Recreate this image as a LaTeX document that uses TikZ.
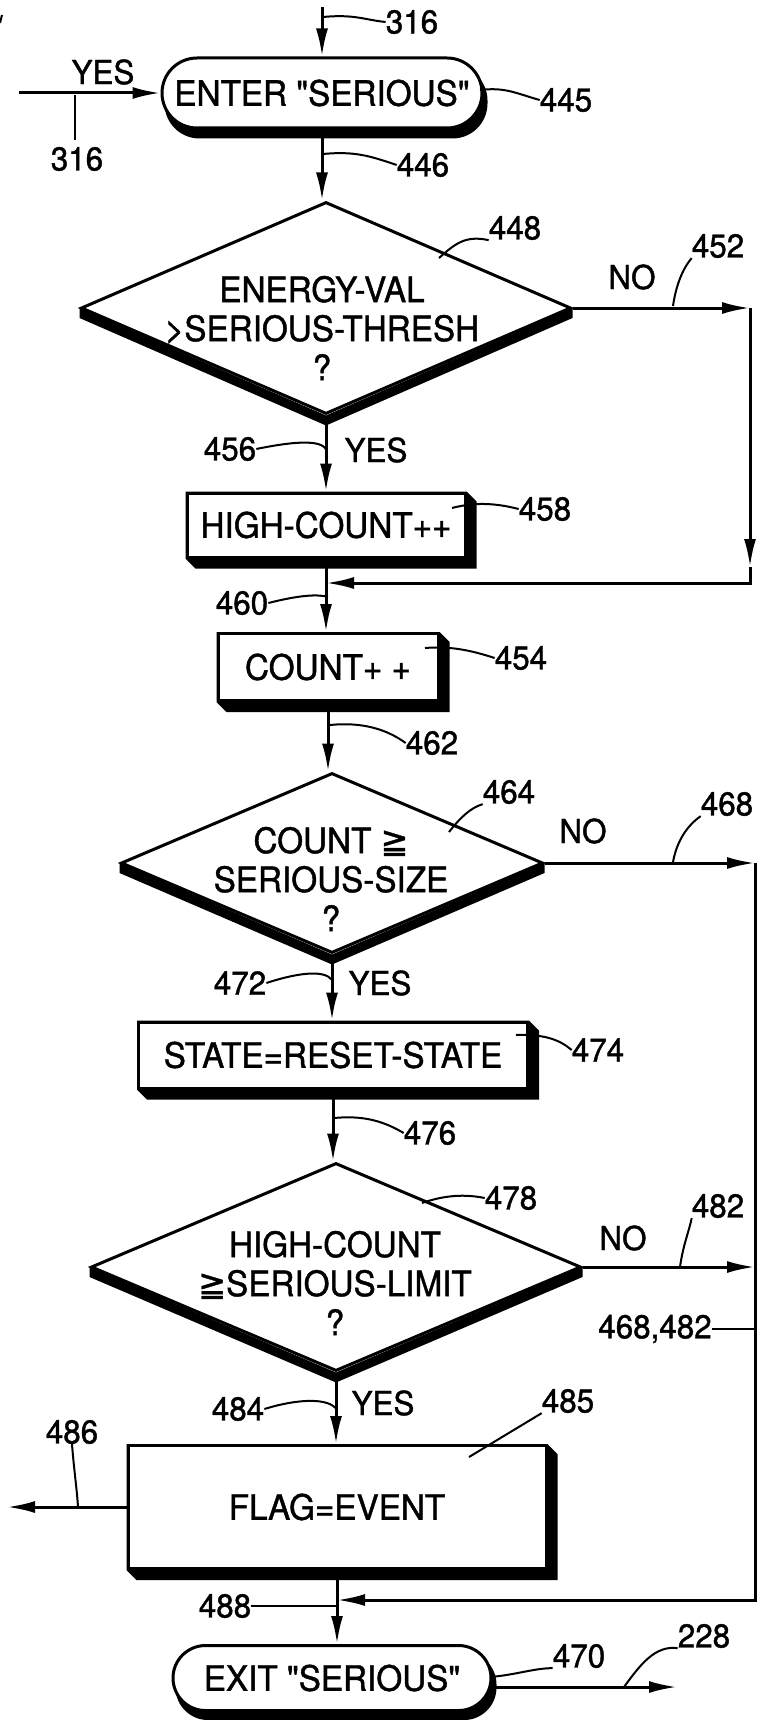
\documentclass[tikz,border=0pt]{standalone}
\usepackage{fontspec}
\setmainfont[Ligatures=TeXOff, FakeStretch=0.95, FakeBold=1.2]{TeX Gyre Heros}
\newfontfamily\symf[FakeStretch=0.95, FakeBold=1.2]{DejaVu Sans}
\usetikzlibrary{arrows.meta,calc,shapes.geometric}
\pgfdeclarelayer{bg}
\pgfsetlayers{bg,main}
\newcommand\boxfont{\fontsize{35}{39}\selectfont}
\newcommand\labfont{\fontsize{33}{36}\selectfont}
\newcommand\myge{{\symf ≧}}
\newcommand\boxshadow[1]{\fill (#1.north west) -- (#1.north east) -- ($(#1.north east)+(10,10)$) -- ($(#1.south east)+(10,10)$) -- ($(#1.south west)+(10,10)$) -- (#1.south west) -- cycle;}
\newcommand\diashadow[1]{\fill (#1.west) -- (#1.south) -- (#1.east) -- ($(#1.east)+(0,10)$) -- ($(#1.south)+(0,10)$) -- ($(#1.west)+(0,10)$) -- cycle;}
\begin{document}
\begin{tikzpicture}[x=1pt,y=-1pt,
  boxn/.style={draw, fill=white, line width=3pt, rectangle, inner sep=0pt, font=\boxfont},
  stad/.style={draw, fill=white, line width=3pt, rectangle, inner sep=0pt, font=\boxfont},
  dia/.style={draw, fill=white, line width=3pt, diamond, inner sep=0pt},
  dtext/.style={align=center, font=\boxfont, inner sep=0pt},
  lab/.style={font=\labfont, inner sep=0pt},
  arr/.style={line width=3pt, -{Latex[length=28pt,width=12pt]}},
  lead/.style={line width=2pt}
]
\useasboundingbox (0,0) rectangle (760,1720);

% nodes
\node[stad, rounded corners=35pt, minimum width=320, minimum height=70] (enter) at (322,93) {ENTER "SERIOUS"};
\node[dia, minimum width=490, minimum height=212] (d1) at (326,308) {};
\node[dtext] (d1t) at (322,328) {ENERGY-VAL\\>SERIOUS-THRESH\\?};
\node[boxn, minimum width=278, minimum height=64] (hc) at (326,525) {HIGH-COUNT++};
\node[boxn, minimum width=220, minimum height=67] (count) at (328,667) {COUNT+ +};
\node[dia, minimum width=422, minimum height=180] (d2) at (332,863) {};
\node[dtext] (d2t) at (331,879) {COUNT \myge\\SERIOUS-SIZE\\?};
\node[boxn, minimum width=389, minimum height=66] (state) at (333,1055) {STATE=RESET-STATE};
\node[dia, minimum width=490, minimum height=208] (d3) at (336,1267) {};
\node[dtext] (d3t) at (335,1283) {HIGH-COUNT\\\myge SERIOUS-LIMIT\\?};
\node[boxn, minimum width=418, minimum height=123] (flag) at (337,1507) {FLAG=EVENT};
\node[stad, rounded corners=32.5pt, minimum width=318, minimum height=65] (exit) at (332,1678) {EXIT "SERIOUS"};

% shadows
\begin{pgfonlayer}{bg}
  \fill[rounded corners=35pt] ($(enter.north west)+(4,9)$) rectangle ($(enter.south east)+(4,9)$);
  \fill[rounded corners=32.5pt] ($(exit.north west)+(4,8)$) rectangle ($(exit.south east)+(4,8)$);
  \boxshadow{hc}
  \boxshadow{count}
  \boxshadow{state}
  \boxshadow{flag}
  \diashadow{d1}
  \diashadow{d2}
  \diashadow{d3}
\end{pgfonlayer}

% coordinates
\coordinate (top) at (322,7);
\coordinate (in) at (19,93);
\coordinate (r1b) at (750,583);
\coordinate (r1a) at (d1.east -| r1b);
\coordinate (r1m) at (750,567);
\coordinate (r2b) at (755,1600);
\coordinate (r2a) at (d2.east -| r2b);
\coordinate (o486) at (7,1507);
\coordinate (o228) at (677,1687);
\coordinate (t316a) at (75,95);
\coordinate (t316b) at (75,140);

% connectors
\draw[arr] (top) -- (enter.north);
\draw[arr] (in) -- (enter.west);
\draw[arr] (enter.south) -- (enter.south |- d1.north);
\draw[arr] (d1.south) -- (d1.south |- hc.north);
\draw[arr] (d1.east) -- (r1a);
\draw[arr] (r1a) -- (r1m);
\draw[arr] (r1m) -- (r1b) -- (hc.south |- r1b);
\draw[arr] (hc.south) -- (hc.south |- count.north);
\draw[arr] (count.south) -- (count.south |- d2.north);
\draw[arr] (d2.east) -- (r2a);
\draw[arr] (r2a) -- (r2b) -- (flag.south |- r2b);
\draw[arr] (d2.south) -- (d2.south |- state.north);
\draw[arr] (state.south) -- (state.south |- d3.north);
\draw[arr] (d3.east) -- (d3.east -| r2b);
\draw[arr] (d3.south) -- (d3.south |- flag.north);
\draw[arr] (flag.west) -- (o486);
\draw[arr] (flag.south) -- (flag.south |- exit.north);
\draw[arr] (exit.east |- o228) -- (o228);

% small mark top left
\draw[line width=2pt] (2,15) -- (0,23);

% labels
\node[lab] (l316a) at (412,22) {316};
\node[lab] (lyes0) at (103,72) {YES};
\node[lab] (l316b) at (77,159) {316};
\node[lab] (l445) at (566,100) {445};
\node[lab] (l446) at (423,165) {446};
\node[lab] (l448) at (515,228) {448};
\node[lab] (lno1) at (632,277) {NO};
\node[lab] (l452) at (718,246) {452};
\node[lab] (l456) at (230,449) {456};
\node[lab] (lyes1) at (376,450) {YES};
\node[lab] (l458) at (545,509) {458};
\node[lab] (l460) at (242,603) {460};
\node[lab] (l454) at (521,658) {454};
\node[lab] (l462) at (432,743) {462};
\node[lab] (l464) at (509,792) {464};
\node[lab] (lno2) at (583,831) {NO};
\node[lab] (l468) at (727,804) {468};
\node[lab] (l472) at (240,983) {472};
\node[lab] (lyes2) at (380,983) {YES};
\node[lab] (l474) at (598,1050) {474};
\node[lab] (l476) at (430,1133) {476};
\node[lab] (l478) at (511,1198) {478};
\node[lab] (lno3) at (623,1238) {NO};
\node[lab] (l482) at (718,1206) {482};
\node[lab] (l468482) at (655,1329) {468,482};
\node[lab] (l484) at (238,1409) {484};
\node[lab] (lyes3) at (383,1403) {YES};
\node[lab] (l485) at (568,1401) {485};
\node[lab] (l486) at (72,1432) {486};
\node[lab] (l488) at (225,1606) {488};
\node[lab] (l470) at (579,1656) {470};
\node[lab] (l228) at (704,1636) {228};

% leaders
\draw[lead] (323,17) .. controls (355,14) and (365,20) .. (l316a.west);
\draw[lead] (t316a) -- (t316b);
\draw[lead] (480,90) .. controls (505,87) and (515,93) .. (l445.west);
\draw[lead] (323,154) .. controls (355,151) and (370,156) .. (l446.west);
\draw[lead] (439,258) .. controls (455,244) and (465,235) .. (l448.south west);
\draw[lead] (673,306) .. controls (676,285) and (683,268) .. (l452.south west);
\draw[lead] (l456.east) .. controls (300,440) and (325,440) .. (327,452);
\draw[lead] (452,508) .. controls (475,502) and (495,503) .. (l458.west);
\draw[lead] (l460.east) .. controls (300,595) and (318,594) .. (328,597);
\draw[lead] (425,648) .. controls (450,646) and (470,650) .. (l454.west);
\draw[lead] (330,725) .. controls (360,722) and (385,728) .. (l462.west);
\draw[lead] (449,832) .. controls (460,818) and (470,808) .. (l464.south west);
\draw[lead] (673,862) .. controls (677,840) and (688,825) .. (l468.south west);
\draw[lead] (l472.east) .. controls (300,972) and (325,970) .. (332,980);
\draw[lead] (516,1035) .. controls (545,1034) and (560,1040) .. (l474.west);
\draw[lead] (334,1118) .. controls (365,1115) and (385,1122) .. (l476.west);
\draw[lead] (422,1203) .. controls (445,1195) and (465,1194) .. (l478.west);
\draw[lead] (680,1267) .. controls (683,1245) and (690,1228) .. (l482.south west);
\draw[lead] (l468482.east) -- (l468482.east -| r2b);
\draw[lead] (l484.east) .. controls (300,1398) and (330,1398) .. (337,1410);
\draw[lead] (469,1457) -- (l485.south west);
\draw[lead] (l486.south) .. controls (74,1470) and (77,1490) .. (78,1507);
\draw[lead] (l488.east) -- (l488.east -| flag.south);
\draw[lead] (490,1677) .. controls (515,1675) and (535,1668) .. (l470.south west);
\draw[lead] (624,1687) .. controls (640,1665) and (655,1645) .. (l228.south west);
\end{tikzpicture}
\end{document}
